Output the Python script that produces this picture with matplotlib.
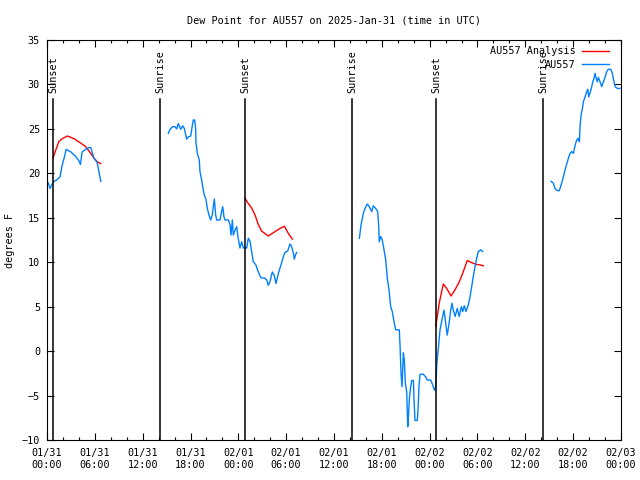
import matplotlib
matplotlib.use("Agg")
import matplotlib.pyplot as plt
from matplotlib.ticker import MultipleLocator

# hours since 2025-01-31 00:00 UTC, dew point in degrees F
obs_t1 = [0.0, 0.2, 0.38, 0.6, 0.88, 1.2, 1.63, 1.9, 2.2, 2.4, 3.0, 3.6, 4.0, 4.2, 4.4, 4.85, 5.27, 5.48, 5.9, 6.3, 6.74]
obs_v1 = [19.2, 18.8, 18.3, 18.7, 19.1, 19.25, 19.6, 20.9, 21.9, 22.7, 22.4, 21.9, 21.4, 21.0, 22.4, 22.7, 22.9, 22.9, 21.7, 21.2, 19.1]

obs_t2 = [15.22, 15.43, 15.76, 16.06, 16.27, 16.47, 16.77, 17.02, 17.22, 17.52, 17.72, 18.03, 18.23, 18.35, 18.52, 18.65,
          18.69, 18.86, 19.1, 19.19, 19.4, 19.53, 19.73, 19.94, 20.1, 20.32, 20.53, 20.73, 20.86, 20.99, 21.16, 21.29,
          21.7, 21.9, 22.04, 22.2, 22.33, 22.75, 22.96, 23.08, 23.25, 23.37, 23.58, 23.8, 23.92, 24.2, 24.42, 24.63,
          25.05, 25.25, 25.46, 25.67, 25.88, 26.2, 26.5, 26.84, 27.34, 27.56, 27.76, 27.97, 28.26, 28.51, 28.73, 29.02,
          29.35, 29.64, 29.85, 30.19, 30.48, 30.69, 30.9, 31.02, 31.2, 31.32]
obs_v2 = [24.5, 24.95, 25.25, 25.25, 25.0, 25.6, 24.95, 25.35, 25.05, 23.85, 24.1, 24.2, 25.4, 26.0, 26.0, 25.05,
          23.4, 22.25, 21.5, 20.2, 19.25, 18.5, 17.55, 17.1, 16.1, 15.3, 14.75, 15.3, 16.25, 17.1, 15.3, 14.75,
          14.75, 15.7, 16.25, 15.1, 14.75, 14.75, 14.2, 13.05, 14.75, 13.05, 13.6, 14.0, 13.05, 11.6, 12.3, 11.6,
          11.6, 12.7, 12.4, 11.2, 10.05, 9.7, 8.9, 8.25, 8.2, 8.0, 7.4, 7.8, 8.9, 8.5, 7.6, 8.75,
          9.7, 10.6, 11.1, 11.25, 12.05, 11.75, 11.0, 10.35, 10.9, 11.1]

obs_t3 = [39.18, 39.26, 39.39, 39.52, 39.68, 39.89, 40.18, 40.43, 40.73, 40.93, 41.23, 41.48, 41.61, 41.68, 41.86, 42.06,
          42.27, 42.49, 42.69, 42.9, 43.11, 43.31, 43.53, 43.74, 44.19, 44.28, 44.41, 44.53, 44.62, 44.7, 44.82, 44.95,
          45.12, 45.25, 45.33, 45.46, 45.62, 45.75, 45.96, 46.04, 46.16, 46.45, 46.54, 46.66, 46.79, 47.2, 47.5, 47.7,
          48.13, 48.38, 48.59, 48.76, 48.9, 49.15, 49.3, 49.58, 49.8, 49.96, 50.2, 50.43, 50.64, 50.8, 50.96, 51.2,
          51.46, 51.7, 51.97, 52.14, 52.34, 52.55, 52.85, 53.06, 53.27, 53.47, 53.69, 53.9, 54.1, 54.4, 54.65]
obs_v3 = [12.7, 13.25, 14.2, 14.8, 15.5, 16.05, 16.55, 16.25, 15.7, 16.35, 16.05, 15.7, 14.0, 12.3, 12.9, 12.5,
          11.4, 10.25, 8.2, 6.9, 5.0, 4.45, 3.3, 2.4, 2.4, 0.7, -2.5, -4.0, -2.1, -0.2, -1.0, -3.6,
          -4.6, -8.5, -7.4, -5.3, -4.0, -3.3, -3.3, -5.5, -7.8, -7.8, -6.6, -4.0, -2.6, -2.6, -2.9, -3.25,
          -3.25, -3.8, -4.4, -4.0, -1.4, 0.9, 2.4, 3.7, 4.6, 3.5, 1.8, 3.1, 4.6, 5.4, 4.6, 3.9,
          4.8, 3.9, 5.0, 4.45, 5.1, 4.45, 5.2, 6.1, 7.25, 8.4, 9.5, 10.45, 11.2, 11.4, 11.2]

obs_t4 = [63.22, 63.51, 63.72, 64.0, 64.26, 64.56, 64.77, 64.98, 65.19, 65.4, 65.61, 65.82, 66.03, 66.23, 66.44, 66.65,
          66.78, 66.86, 66.99, 67.16, 67.28, 67.49, 67.7, 67.83, 67.95, 68.12, 68.33, 68.46, 68.62, 68.75, 68.88, 69.03,
          69.16, 69.37, 69.58, 69.79, 70.0, 70.21, 70.41, 70.72, 70.92, 71.05, 71.26, 71.55, 71.88]
obs_v4 = [19.1, 18.9, 18.3, 18.05, 18.05, 18.9, 19.6, 20.4, 21.05, 21.7, 22.25, 22.45, 22.25, 23.1, 23.75, 23.95,
          23.55, 25.25, 26.55, 27.3, 28.05, 28.6, 29.2, 29.45, 28.6, 29.05, 29.75, 30.3, 30.7, 31.25, 30.7, 30.3,
          30.8, 30.3, 29.75, 30.3, 30.8, 31.45, 31.7, 31.7, 31.25, 30.6, 29.75, 29.55, 29.55]

ana_t1 = [0.75, 1.09, 1.5, 1.92, 2.55, 3.39, 4.23, 4.85, 5.48, 5.9, 6.31, 6.74]
ana_v1 = [21.7, 22.6, 23.6, 23.9, 24.2, 23.9, 23.4, 23.0, 22.25, 21.7, 21.3, 21.1]
ana_t2 = [24.84, 25.17, 25.67, 26.1, 26.5, 26.93, 27.76, 28.6, 29.23, 29.77, 30.27, 30.77]
ana_v2 = [17.2, 16.7, 16.1, 15.3, 14.25, 13.5, 12.95, 13.45, 13.8, 14.05, 13.25, 12.6]
ana_t3 = [48.76, 48.99, 49.2, 49.46, 49.71, 50.14, 50.68, 51.18, 51.72, 52.22, 52.72, 53.27, 53.9, 54.3, 54.73]
ana_v3 = [2.8, 4.1, 5.4, 6.5, 7.55, 7.05, 6.2, 6.9, 7.8, 8.95, 10.2, 9.95, 9.75, 9.7, 9.6]

sun_times = [0.75, 14.17, 24.84, 38.26, 48.8, 62.2]
sun_labels = ["Sunset", "Sunrise", "Sunset", "Sunrise", "Sunset", "Sunrise"]

tick_hours = [0, 6, 12, 18, 24, 30, 36, 42, 48, 54, 60, 66, 72]
tick_labels = ["01/31\n00:00", "01/31\n06:00", "01/31\n12:00", "01/31\n18:00",
               "02/01\n00:00", "02/01\n06:00", "02/01\n12:00", "02/01\n18:00",
               "02/02\n00:00", "02/02\n06:00", "02/02\n12:00", "02/02\n18:00",
               "02/03\n00:00"]

plt.rcParams['font.family'] = ['DejaVu Sans Mono']
plt.rcParams['font.size'] = 7.3

fig = plt.figure(figsize=(6.4, 4.8), dpi=100)
ax = fig.add_axes([47 / 640, 40 / 480, 574 / 640, 400 / 480])

red = "#ff0000"
blue = "#0080ff"

# analysis (red) segments
ax.plot(ana_t1, ana_v1, color=red, lw=1, label="AU557 Analysis")
ax.plot(ana_t2, ana_v2, color=red, lw=1)
ax.plot(ana_t3, ana_v3, color=red, lw=1)

# observations (blue) segments
ax.plot(obs_t1, obs_v1, color=blue, lw=1, label="AU557")
ax.plot(obs_t2, obs_v2, color=blue, lw=1)
ax.plot(obs_t3, obs_v3, color=blue, lw=1)
ax.plot(obs_t4, obs_v4, color=blue, lw=1)

# sunrise / sunset markers
for t, lab in zip(sun_times, sun_labels):
    ax.plot([t, t], [-10, 28.4], color="black", lw=1.1)
    ax.text(t + 0.1, 29.0, lab, rotation=90, ha="center", va="bottom")

ax.set_xlim(0, 72)
ax.set_ylim(-10, 35)
ax.set_xticks(tick_hours)
ax.set_xticklabels(tick_labels)
ax.xaxis.set_minor_locator(MultipleLocator(2))
ax.yaxis.set_major_locator(MultipleLocator(5))
ax.tick_params(which="both", direction="in", top=True, right=True, width=0.8)
ax.tick_params(which="major", length=5, pad=6)
ax.tick_params(which="minor", length=2.5)
ax.tick_params(axis="y", pad=5)

ax.set_title("Dew Point for AU557 on 2025-Jan-31 (time in UTC)", fontsize=7.3, pad=12)
ax.set_ylabel("degrees F")
ax.yaxis.set_label_coords(-0.056, 0.5)

ax.legend(loc="upper right", bbox_to_anchor=(0.9895, 1.0), frameon=False, markerfirst=False,
          handlelength=2.7, borderaxespad=0.2, labelspacing=0.35, handletextpad=0.6)

fig.savefig("out.png", dpi=100)
